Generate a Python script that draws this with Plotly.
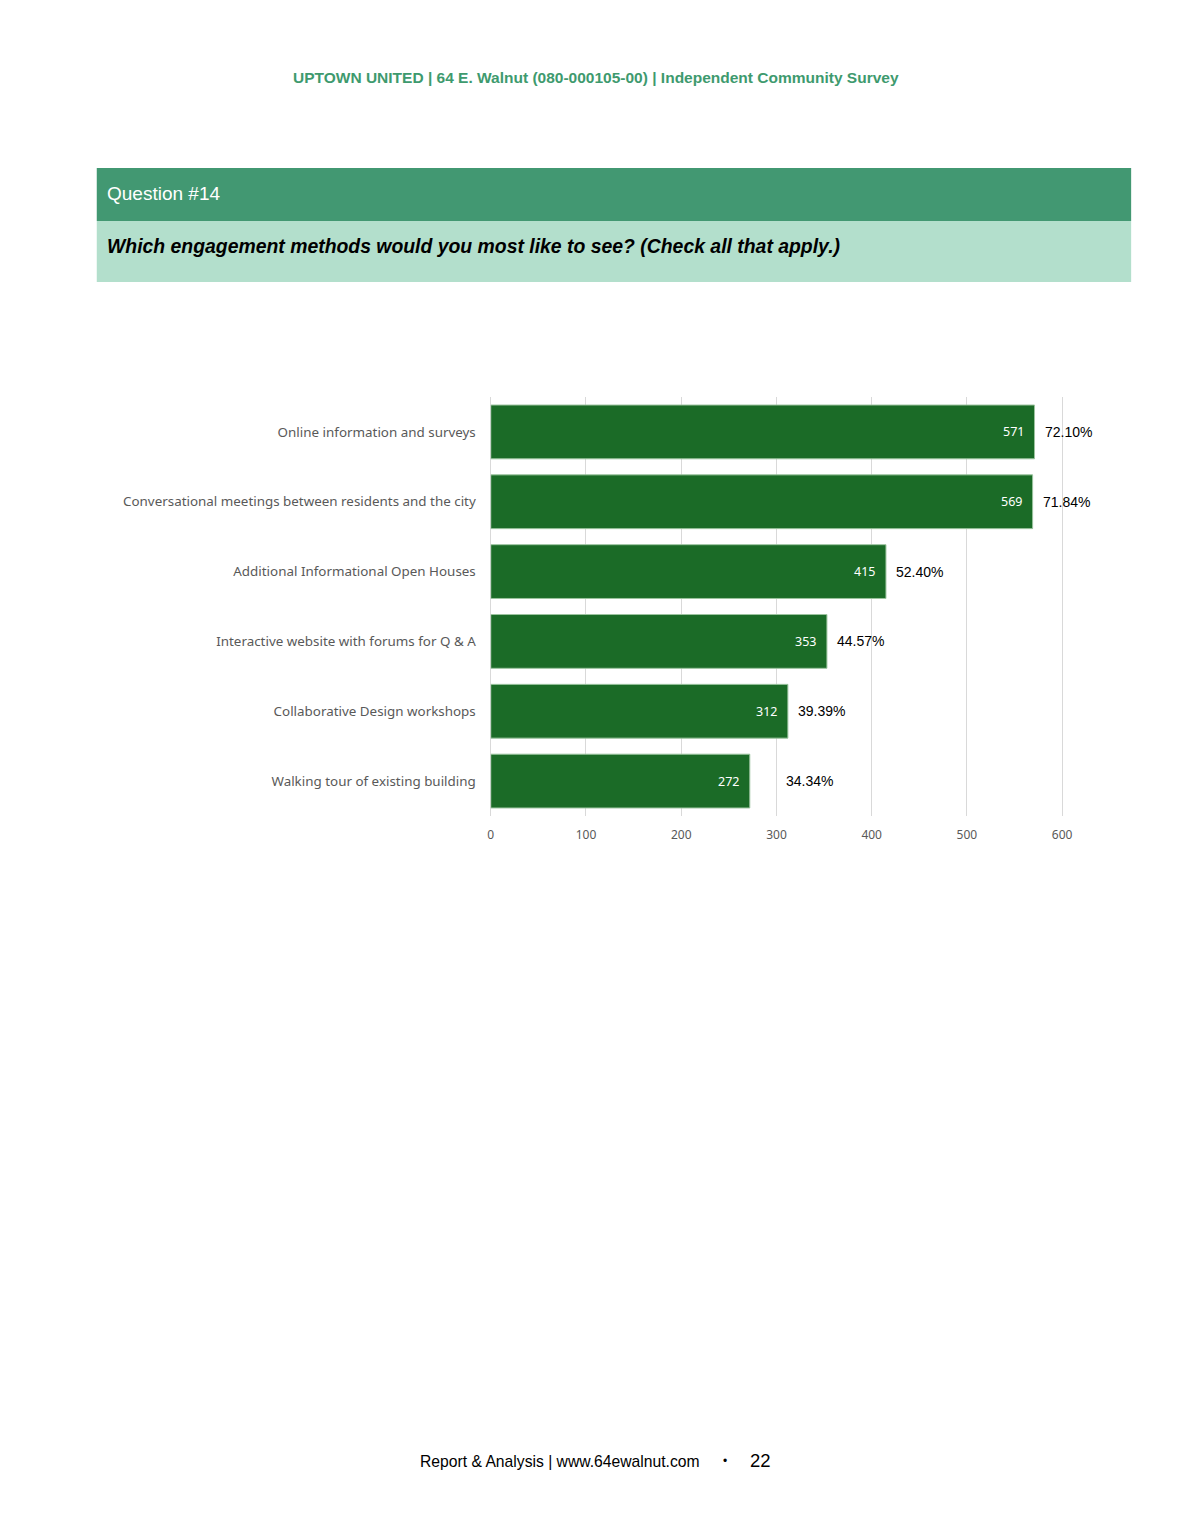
import plotly.graph_objects as go

# Data
methods = [
    "Online information and surveys",
    "Conversational meetings between residents and the city",
    "Additional Informational Open Houses",
    "Interactive website with forums for Q & A",
    "Collaborative Design workshops",
    "Walking tour of existing building",
]
counts = [571, 569, 415, 353, 312, 272]
percents = ["72.10%", "71.84%", "52.40%", "44.57%", "39.39%", "34.34%"]
x_ticks = [0, 100, 200, 300, 400, 500, 600]

W, H = 1190, 1540


def px_x(x):
    return x / W


def px_y(y):
    return 1 - y / H


fig = go.Figure()

fig.add_trace(
    go.Bar(
        y=methods,
        x=counts,
        orientation="h",
        width=0.77,
        marker=dict(color="#1b6b27", line=dict(color="#9cc49f", width=1)),
        hoverinfo="skip",
    )
)

# count labels inside the bar end, percentages to the right
for m, c, p in zip(methods, counts, percents):
    fig.add_annotation(
        x=c, y=m, xref="x", yref="y",
        text=str(c), showarrow=False, xanchor="right", xshift=-9,
        font=dict(size=12.5, color="white", family="Noto Sans"),
    )
    fig.add_annotation(
        x=max(c, 300), y=m, xref="x", yref="y",
        text=p, showarrow=False, xanchor="left", xshift=8,
        font=dict(size=14, color="#000000", family="Liberation Sans"),
    )

# page header
fig.add_annotation(
    x=px_x(594), y=px_y(78), xref="paper", yref="paper",
    text="<b>UPTOWN UNITED | 64 E. Walnut (080-000105-00) | Independent Community Survey</b>",
    showarrow=False, xanchor="center", yanchor="middle",
    font=dict(size=15.5, color="#3e9a6e", family="Liberation Sans"),
)

# question banners
fig.add_shape(type="rect", xref="paper", yref="paper",
              x0=px_x(94), x1=px_x(1131), y0=px_y(221), y1=px_y(168),
              fillcolor="#429872", line=dict(width=0), layer="below")
fig.add_shape(type="rect", xref="paper", yref="paper",
              x0=px_x(94), x1=px_x(1131), y0=px_y(282), y1=px_y(221),
              fillcolor="#b3dfcc", line=dict(width=0), layer="below")
fig.add_annotation(
    x=px_x(102), y=px_y(194), xref="paper", yref="paper",
    text="Question #14", showarrow=False, xanchor="left", yanchor="middle",
    font=dict(size=19, color="white", family="Liberation Sans"),
)
fig.add_annotation(
    x=px_x(102), y=px_y(246), xref="paper", yref="paper",
    text="<b><i>Which engagement methods would you most like to see? (Check all that apply.)</i></b>",
    showarrow=False, xanchor="left", yanchor="middle",
    font=dict(size=19.4, color="#000000", family="Liberation Sans"),
)

# footer
fig.add_annotation(
    x=px_x(701), y=px_y(1461), xref="paper", yref="paper",
    text="Report & Analysis | www.64ewalnut.com", showarrow=False,
    xanchor="right", yanchor="middle",
    font=dict(size=15.7, color="#000000", family="Liberation Sans"),
)
fig.add_annotation(
    x=px_x(724), y=px_y(1461), xref="paper", yref="paper",
    text="•", showarrow=False, xanchor="center", yanchor="middle",
    font=dict(size=12, color="#000000", family="Liberation Sans"),
)
fig.add_annotation(
    x=px_x(747), y=px_y(1460), xref="paper", yref="paper",
    text="22", showarrow=False, xanchor="left", yanchor="middle",
    font=dict(size=18.5, color="#000000", family="Liberation Sans"),
)

fig.update_layout(
    width=W, height=H,
    margin=dict(l=0, r=0, t=0, b=0),
    paper_bgcolor="white", plot_bgcolor="white",
    showlegend=False,
    xaxis=dict(
        domain=[px_x(489), px_x(1100)],
        range=[0, 640],
        tickvals=x_ticks,
        showgrid=True, gridcolor="#d9d9d9", gridwidth=1,
        zeroline=True, zerolinecolor="#d9d9d9", zerolinewidth=1,
        tickfont=dict(size=12, color="#595959", family="Noto Sans"),
        ticks="", ticklabelstandoff=10,
    ),
    yaxis=dict(
        domain=[px_y(816), px_y(397)],
        autorange="reversed",
        showgrid=False,
        tickfont=dict(size=13.4, color="#595959", family="Noto Sans"),
        ticks="", ticklabelstandoff=14,
    ),
)

# drop the browser's default page margin so the figure sits at the top-left corner
fig.write_html("out.html", config={"displayModeBar": False},
               post_script="document.body.style.margin = '0px';")
